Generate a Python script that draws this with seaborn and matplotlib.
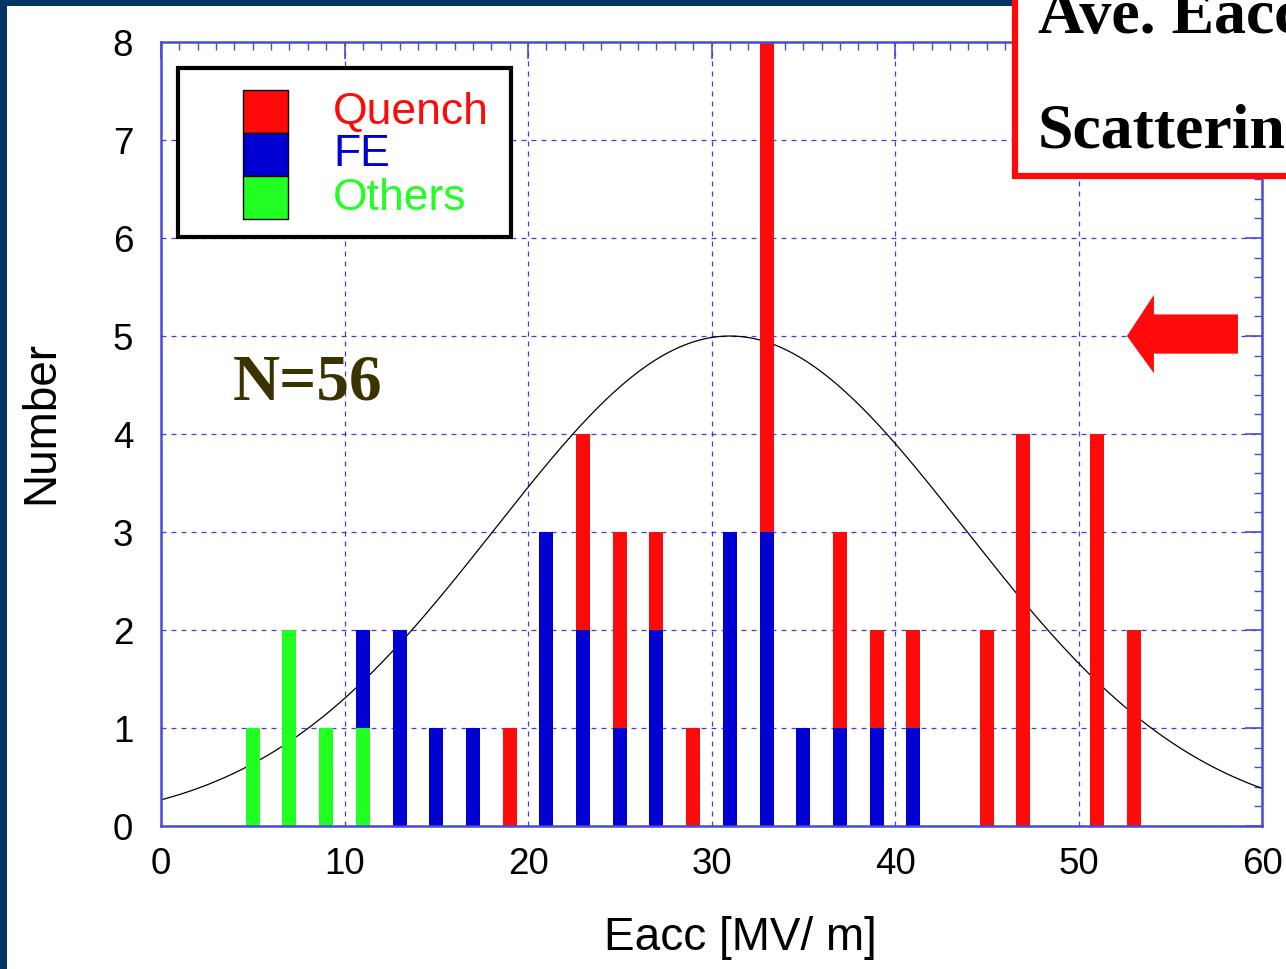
import numpy as np
import pandas as pd
import matplotlib
matplotlib.use("Agg")
import matplotlib.pyplot as plt
import seaborn as sns
from matplotlib.patches import Rectangle, Polygon
from matplotlib.lines import Line2D
from matplotlib.ticker import MultipleLocator

# Cavity counts per 2 MV/m Eacc bin (bin centres), split by limiting cause
others_eacc = [5, 7, 9, 11]
others_count = [1, 2, 1, 1]
fe_eacc = [11, 13, 15, 17, 21, 23, 25, 27, 31, 33, 35, 37, 39, 41]
fe_count = [1, 2, 1, 1, 3, 2, 1, 2, 3, 3, 1, 1, 1, 1]
quench_eacc = [19, 23, 25, 27, 29, 33, 37, 39, 41, 45, 47, 51, 53]
quench_count = [1, 2, 2, 1, 1, 5, 2, 1, 1, 2, 4, 4, 2]

causes = ["Quench", "FE", "Others"]
cause_colors = {"Quench": "#ff0a0a", "FE": "#0000d2", "Others": "#22ff22"}

# Gaussian guide curve parameters
gauss_peak = 5.0
gauss_mean = 31.0
gauss_sigma = 12.8

x_tick_values = [0, 10, 20, 30, 40, 50, 60]
y_tick_values = [0, 1, 2, 3, 4, 5, 6, 7, 8]

W, H = 1286, 969


def fx(px):
    return px / W


def fy(py):
    return 1 - py / H


rows = []
for cause, xs, ns in [("Others", others_eacc, others_count),
                      ("FE", fe_eacc, fe_count),
                      ("Quench", quench_eacc, quench_count)]:
    for x, n in zip(xs, ns):
        rows.append({"eacc": x, "cause": cause, "count": n})
df = pd.DataFrame(rows)

sns.set_theme(style="white")
plt.rcParams["font.family"] = ["Liberation Sans", "DejaVu Sans"]

fig = plt.figure(figsize=(W / 100, H / 100), dpi=100)
ax = fig.add_axes([fx(161), fy(826), fx(1262) - fx(161), fy(42) - fy(826)])

grid_blue = "#1a1aee"
axis_blue = "#4a4ad8"

# Gaussian guide (drawn beneath the bars)
gx = np.linspace(0, 60, 400)
gy = gauss_peak * np.exp(-0.5 * ((gx - gauss_mean) / gauss_sigma) ** 2)
sns.lineplot(x=gx, y=gy, color="black", linewidth=0.9, ax=ax, zorder=0.8)

sns.histplot(data=df, x="eacc", weights="count", hue="cause",
             hue_order=causes, palette=cause_colors, multiple="stack",
             binwidth=2, binrange=(4, 54), shrink=0.38, alpha=1,
             linewidth=0, legend=False, ax=ax, zorder=2)

ax.set_xlim(0, 60)
ax.set_ylim(0, 8)
ax.set_xticks(x_tick_values)
ax.set_yticks(y_tick_values)
ax.set_xticklabels([str(v) for v in x_tick_values])
ax.set_yticklabels([str(v) for v in y_tick_values])
ax.xaxis.set_minor_locator(MultipleLocator(1))
ax.yaxis.set_minor_locator(MultipleLocator(0.2))
ax.set_xlabel("")
ax.set_ylabel("")

ax.set_axisbelow(True)
ax.grid(True, which="major", linestyle=(0, (4, 4)), color=grid_blue,
        linewidth=0.9, alpha=0.85)

ax.tick_params(which="both", direction="in", top=True, right=True,
               color=axis_blue, labelcolor="black")
ax.tick_params(which="major", length=12, width=1.2, labelsize=26.5)
ax.tick_params(which="minor", length=6, width=1.0)
ax.tick_params(axis="y", which="major", pad=20)
ax.tick_params(axis="x", which="major", pad=15)
for s in ax.spines.values():
    s.set_color(axis_blue)
    s.set_linewidth(1.8)

# Red arrow on the right
arrow = Polygon([(52.64, 5.0), (54.11, 5.42), (54.11, 5.22), (58.69, 5.22),
                 (58.69, 4.82), (54.11, 4.82), (54.11, 4.62)],
                closed=True, facecolor="#ff0a0a", edgecolor="none", zorder=3)
ax.add_patch(arrow)

ax.text(3.9, 4.35, "N=56", fontfamily="Liberation Serif", fontweight="bold",
        fontsize=47, color="#3a3300", va="baseline", ha="left", zorder=4)

# Legend box
fig.patches.append(Rectangle((fx(178), fy(237)), fx(511) - fx(178),
                             fy(68) - fy(237), transform=fig.transFigure,
                             facecolor="white", edgecolor="black",
                             linewidth=3, zorder=5))
leg_tops = [90, 133, 176]
for cause, top in zip(causes, leg_tops):
    fig.patches.append(Rectangle((fx(243), fy(top + 43)), fx(288) - fx(243),
                                 fy(top) - fy(top + 43),
                                 transform=fig.transFigure,
                                 facecolor=cause_colors[cause],
                                 edgecolor="black", linewidth=1, zorder=6))
    fig.text(fx(333), fy(top + 22), cause, color=cause_colors[cause],
             fontsize=32, ha="left", va="center", zorder=7)

# Axis titles
fig.text(fx(41), fy(422), "Number", rotation=90, fontsize=33,
         ha="center", va="center", color="black")
fig.text(fx(740), fy(938), "Eacc [MV/ m]", fontsize=33,
         ha="center", va="center", color="black")

# Slide frame on top and left
frame = "#023566"
fig.patches.append(Rectangle((0, fy(6)), 1, fy(0) - fy(6),
                             transform=fig.transFigure, facecolor=frame,
                             edgecolor="none", zorder=8))
fig.patches.append(Rectangle((0, 0), fx(7), 1, transform=fig.transFigure,
                             facecolor=frame, edgecolor="none", zorder=8))

# Summary box at top right: white fill, red left and bottom borders
fig.patches.append(Rectangle((fx(1015), fy(176)), 1 - fx(1015),
                             1 - fy(176), transform=fig.transFigure,
                             facecolor="white", edgecolor="none", zorder=9))
fig.lines.append(Line2D([fx(1015), fx(1015), 1.0], [1.0, fy(176), fy(176)],
                        transform=fig.transFigure, color="#ff0a0a",
                        linewidth=4.5, solid_joinstyle="miter", zorder=9.5))
fig.text(fx(1038), fy(33), "Ave. Eacc", fontfamily="Liberation Serif",
         fontweight="bold", fontsize=46, color="black", ha="left",
         va="baseline", zorder=10)
fig.text(fx(1038), fy(148), "Scattering", fontfamily="Liberation Serif",
         fontweight="bold", fontsize=46, color="black", ha="left",
         va="baseline", zorder=10)

fig.savefig("out.png", dpi=100)
